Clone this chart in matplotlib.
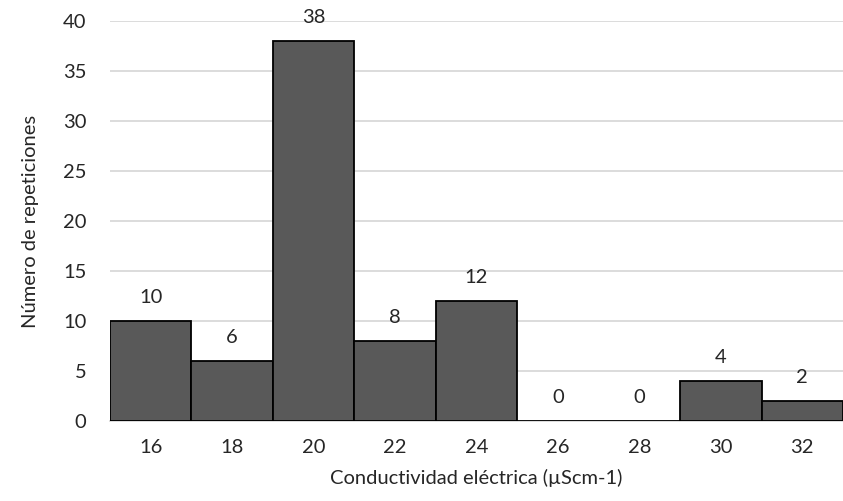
import numpy as np
import matplotlib
matplotlib.use('Agg')
from matplotlib import pyplot as plt

categorias = ['16', '18', '20', '22', '24', '26', '28', '30', '32']
repeticiones = [10, 6, 38, 8, 12, 0, 0, 4, 2]

plt.rcParams['font.family'] = ['Lato', 'DejaVu Sans']
fs = 14.5

fig = plt.figure(figsize=(8.43, 5.01), dpi=100)
ax = fig.add_axes([110/843, 80/501, 733/843, 400/501])

x = np.arange(len(categorias))
ax.bar(x, repeticiones, width=1.0, color='#595959', edgecolor='black',
       linewidth=1.3, zorder=3)

for xi, v in zip(x, repeticiones):
    ax.annotate(str(v), (xi, v), xytext=(0, 17), textcoords='offset points',
                ha='center', va='center', fontsize=fs, color='#262626')

ax.set_xlim(-0.5, len(categorias) - 0.5)
ax.set_ylim(0, 40)
ax.set_yticks(np.arange(0, 41, 5))
ax.set_xticks(x)
ax.set_xticklabels(categorias)

ax.grid(axis='y', color='#d9d9d9', linewidth=1.3, zorder=0)
for s in ['top', 'right', 'left']:
    ax.spines[s].set_visible(False)
ax.spines['bottom'].set_color('#d9d9d9')
ax.spines['bottom'].set_linewidth(1.3)
ax.tick_params(length=0, labelsize=fs, colors='#262626')
ax.tick_params(axis='x', pad=13)
ax.tick_params(axis='y', pad=17)

ax.set_xlabel('Conductividad eléctrica (µScm-1)', fontsize=fs, color='#262626', labelpad=9)
ax.set_ylabel('Número de repeticiones', fontsize=fs, color='#262626', labelpad=17)

plt.savefig('out.png')
